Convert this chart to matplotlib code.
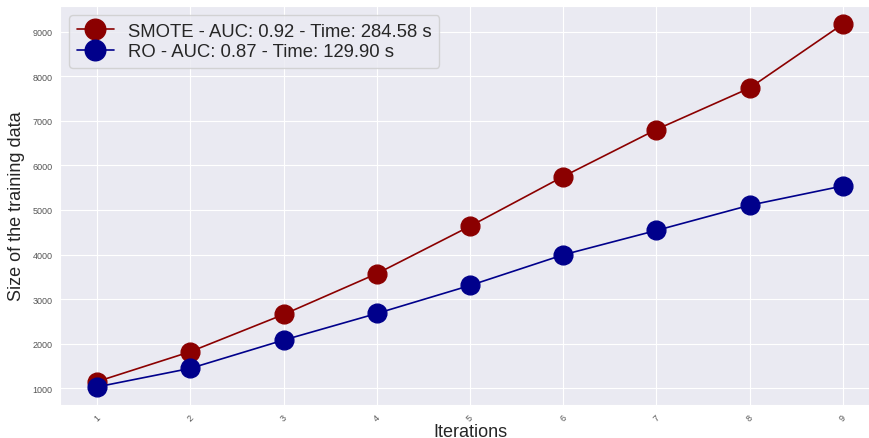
import matplotlib
matplotlib.use("Agg")
import matplotlib.pyplot as plt
import seaborn as sns

iterations = [1, 2, 3, 4, 5, 6, 7, 8, 9]
smote_size = [1150, 1820, 2655, 3570, 4635, 5750, 6805, 7735, 9170]
ro_size = [1030, 1446, 2080, 2677, 3305, 3993, 4540, 5105, 5538]
smote_label = "SMOTE - AUC: 0.92 - Time: 284.58 s"
ro_label = "RO - AUC: 0.87 - Time: 129.90 s"

sns.set_style("darkgrid")
plt.rcParams['font.family'] = ['Liberation Sans', 'DejaVu Sans']

fig = plt.figure(figsize=(8.69, 4.39), dpi=100)
# plot area runs slightly past the right edge, as in the reference
ax = fig.add_axes([60 / 869, 33 / 439, 820 / 869, 399 / 439])

ax.plot(iterations, smote_size, color='darkred', marker='o', markersize=13.5,
        linewidth=1.2, label=smote_label)
ax.plot(iterations, ro_size, color='darkblue', marker='o', markersize=13.5,
        linewidth=1.2, label=ro_label)

ax.set_xticks(iterations)
ax.set_yticks(range(1000, 10000, 1000))
ax.tick_params(axis='both', labelsize=6.5, colors='#555555', pad=2)
plt.setp(ax.get_xticklabels(), rotation=45)
ax.set_xlabel("Iterations", fontsize=13, labelpad=0)
ax.set_ylabel("Size of the training data", fontsize=13, labelpad=5)

ax.legend(loc='upper left', fontsize=13.3, frameon=True, borderaxespad=0.5,
          labelspacing=0.2, markerscale=1.1)

fig.savefig("out.png", dpi=100)
